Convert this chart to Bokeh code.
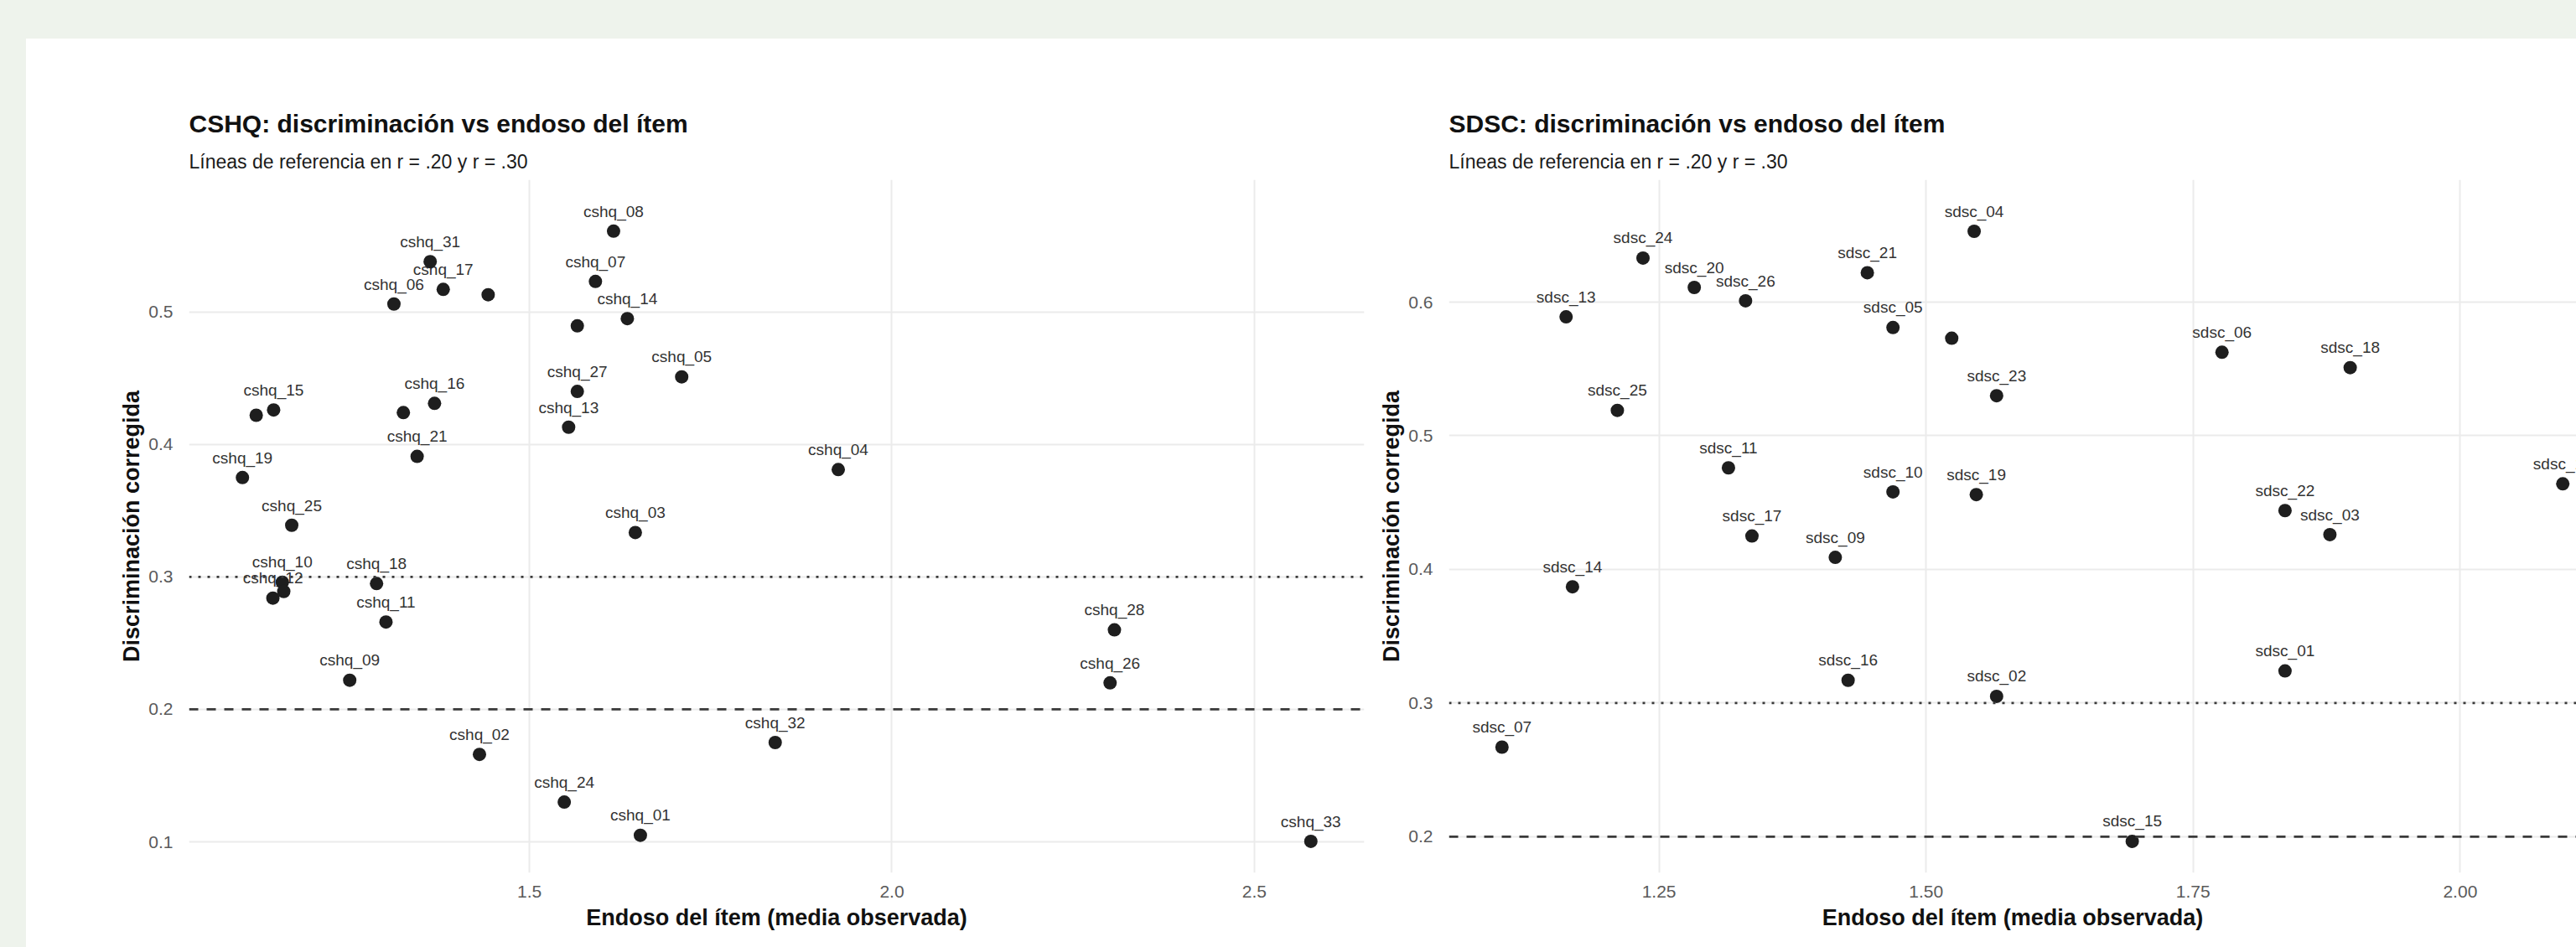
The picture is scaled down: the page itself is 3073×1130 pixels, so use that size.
from bokeh.plotting import figure
from bokeh.models import Span, Title, FixedTicker, NumeralTickFormatter, ColumnDataSource, Range1d, Spacer
from bokeh.layouts import row, column
from bokeh.core.properties import value
from bokeh.embed import file_html
from bokeh.resources import INLINE

FONT = "Liberation Sans"

# ---------------- data: CSHQ ----------------
cshq_items = ["cshq_01", "cshq_02", "cshq_03", "cshq_04", "cshq_05", "cshq_06", "cshq_07", "cshq_08",
              "cshq_09", "cshq_10", "cshq_11", "cshq_12", "cshq_13", "cshq_14", "cshq_15", "cshq_16",
              "cshq_17", "cshq_18", "cshq_19", "cshq_20", "cshq_21", "cshq_22", "cshq_23", "cshq_24",
              "cshq_25", "cshq_26", "cshq_27", "cshq_28", "cshq_29", "cshq_30", "cshq_31", "cshq_32",
              "cshq_33"]
cshq_endoso = [1.653, 1.431, 1.646, 1.926, 1.710, 1.313, 1.591, 1.616,
               1.252, 1.159, 1.302, 1.146, 1.554, 1.635, 1.147, 1.369,
               1.381, 1.289, 1.104, 1.443, 1.345, 1.566, 1.123, 1.548,
               1.172, 2.301, 1.566, 2.307, 1.326, 1.161, 1.363, 1.839,
               2.578]
cshq_disc = [0.105, 0.166, 0.3335, 0.381, 0.451, 0.506, 0.523, 0.561,
             0.222, 0.296, 0.266, 0.284, 0.413, 0.495, 0.426, 0.431,
             0.517, 0.295, 0.375, 0.513, 0.391, 0.4895, 0.422, 0.130,
             0.339, 0.220, 0.440, 0.260, 0.424, 0.289, 0.538, 0.175,
             0.1004]
# labels that the original could not place (overlap)
cshq_hidden = ["cshq_20", "cshq_22", "cshq_23", "cshq_29", "cshq_30"]

# ---------------- data: SDSC ----------------
sdsc_items = ["sdsc_01", "sdsc_02", "sdsc_03", "sdsc_04", "sdsc_05", "sdsc_06", "sdsc_07", "sdsc_08",
              "sdsc_09", "sdsc_10", "sdsc_11", "sdsc_12", "sdsc_13", "sdsc_14", "sdsc_15", "sdsc_16",
              "sdsc_17", "sdsc_18", "sdsc_19", "sdsc_20", "sdsc_21", "sdsc_22", "sdsc_23", "sdsc_24",
              "sdsc_25", "sdsc_26"]
sdsc_endoso = [1.836, 1.566, 1.878, 1.545, 1.469, 1.777, 1.103, 1.524,
               1.415, 1.469, 1.315, 2.096, 1.163, 1.169, 1.693, 1.427,
               1.337, 1.897, 1.547, 1.283, 1.445, 1.836, 1.566, 1.235,
               1.211, 1.331]
sdsc_disc = [0.324, 0.305, 0.426, 0.653, 0.581, 0.5625, 0.267, 0.573,
             0.409, 0.458, 0.476, 0.464, 0.589, 0.387, 0.1965, 0.317,
             0.425, 0.551, 0.456, 0.611, 0.622, 0.444, 0.530, 0.633,
             0.519, 0.601]
sdsc_hidden = ["sdsc_08"]

# ticks
cshq_xticks = [1.5, 2.0, 2.5]
cshq_yticks = [0.1, 0.2, 0.3, 0.4, 0.5]
sdsc_xticks = [1.25, 1.50, 1.75, 2.00]
sdsc_yticks = [0.2, 0.3, 0.4, 0.5, 0.6]
ref_lines = [0.20, 0.30]

titles = ["CSHQ: discriminación vs endoso del ítem", "SDSC: discriminación vs endoso del ítem"]
subtitle = "Líneas de referencia en r = .20 y r = .30"
xlab = "Endoso del ítem (media observada)"
ylab = "Discriminación corregida"

# ---------------- styling / layout constants ----------------
NUDGE = 0.015
TOP_PAD = 46
LEFT_PAD = 31
FIG_H = 1130 - TOP_PAD
TOP = 168
FRAME_H = 827
BOTTOM = FIG_H - TOP - FRAME_H
BG_OUT = "#EEF3EC"
W1 = 1603
W2 = 3073 - LEFT_PAD - W1


def make_plot(items, xs, ys, hidden, title, xticks, xfmt, yticks,
              fig_w, left_border, right_border, natural_frame_w):
    ylab_pos = [y + NUDGE for y in ys]
    xmin, xmax = min(xs), max(xs)
    xspan = xmax - xmin
    x0, x1 = xmin - 0.05 * xspan, xmax + 0.05 * xspan
    ymin, ymax = min(ys), max(ylab_pos)
    yspan = ymax - ymin
    y0, y1 = ymin - 0.05 * yspan, ymax + 0.05 * yspan
    frame_w = fig_w - left_border - right_border
    # visible part of the panel (the original is cut by the window edge)
    x1_vis = x0 + (x1 - x0) * frame_w / natural_frame_w

    p = figure(width=fig_w, height=FIG_H, output_backend="svg", toolbar_location=None,
               x_range=Range1d(x0, x1_vis), y_range=Range1d(y0, y1),
               min_border_left=left_border, min_border_right=right_border,
               min_border_top=TOP, min_border_bottom=BOTTOM,
               background_fill_color="white", border_fill_color="white",
               outline_line_color=None)

    p.add_layout(Title(text=subtitle, align="left", text_font=FONT, text_font_size="23px",
                       text_font_style="normal", text_color="#1a1a1a", standoff=18), "above")
    p.add_layout(Title(text=title, align="left", text_font=FONT, text_font_size="30px",
                       text_font_style="bold", text_color="#111111", standoff=9), "above")

    for ax in (p.xaxis[0], p.yaxis[0]):
        ax.axis_line_color = None
        ax.major_tick_line_color = None
        ax.minor_tick_line_color = None
        ax.major_label_text_font = FONT
        ax.major_label_text_font_size = "21px"
        ax.major_label_text_color = "#5a5a5a"
        ax.axis_label_text_font = FONT
        ax.axis_label_text_font_size = "27px"
        ax.axis_label_text_font_style = "bold"
        ax.axis_label_text_color = "#111111"

    p.xaxis.ticker = FixedTicker(ticks=xticks)
    p.xaxis.formatter = NumeralTickFormatter(format=xfmt)
    p.yaxis.ticker = FixedTicker(ticks=yticks)
    p.yaxis.formatter = NumeralTickFormatter(format="0.0")
    p.xaxis.axis_label = xlab
    p.yaxis.axis_label = ylab
    p.xaxis.major_label_standoff = 9
    p.xaxis.axis_label_standoff = 6
    p.yaxis.major_label_standoff = 13
    p.yaxis.axis_label_standoff = 2

    p.xgrid.ticker = FixedTicker(ticks=xticks)
    p.ygrid.ticker = FixedTicker(ticks=yticks)
    for g in (p.xgrid[0], p.ygrid[0]):
        g.grid_line_color = "#EBEBEB"
        g.grid_line_width = 2
        g.minor_grid_line_color = None

    p.add_layout(Span(location=ref_lines[0], dimension="width", line_color="#3a3a3a",
                      line_width=2.7, line_dash="11 10"))
    p.add_layout(Span(location=ref_lines[1], dimension="width", line_color="#3a3a3a",
                      line_width=2.7, line_dash="3 8"))

    shown = [i for i, n in enumerate(items) if n not in hidden]
    lab_src = ColumnDataSource(dict(x=[xs[i] for i in shown],
                                    y=[ylab_pos[i] for i in shown],
                                    t=[items[i] for i in shown]))
    p.text(x="x", y="y", text="t", source=lab_src, text_font=value(FONT),
           text_font_size="19px", text_align="center", text_baseline="middle",
           text_color="#333333")

    pt_src = ColumnDataSource(dict(x=xs, y=ys))
    p.scatter(x="x", y="y", source=pt_src, size=16, fill_color="#1e1e1e",
              line_color="#1e1e1e", line_width=0)
    return p


p1 = make_plot(cshq_items, cshq_endoso, cshq_disc, cshq_hidden, titles[0],
               cshq_xticks, "0.0", cshq_yticks, W1, 194, 7, 1402)
p2 = make_plot(sdsc_items, sdsc_endoso, sdsc_disc, sdsc_hidden, titles[1],
               sdsc_xticks, "0.00", sdsc_yticks, W2, 94, 0, 1392)

top_band = Spacer(width=LEFT_PAD + W1 + W2, height=TOP_PAD, styles={"background-color": BG_OUT})
left_band = Spacer(width=LEFT_PAD, height=FIG_H, styles={"background-color": BG_OUT})
layout = column(top_band, row(left_band, p1, p2))

open("out.html", "w").write(file_html(layout, INLINE))
